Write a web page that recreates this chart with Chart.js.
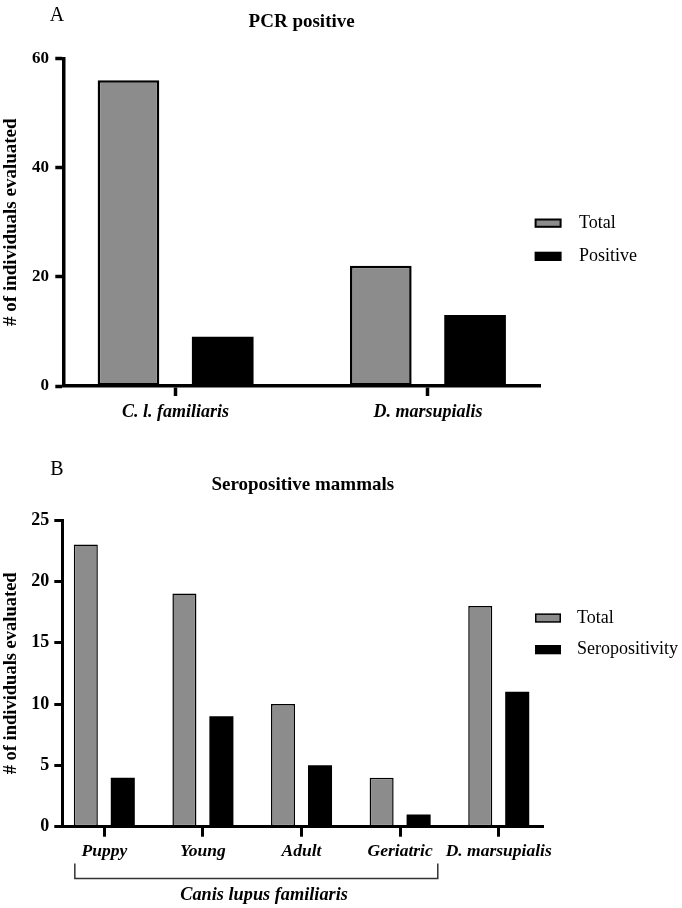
<!DOCTYPE html>
<html><head><meta charset="utf-8">
<script src="https://cdn.jsdelivr.net/npm/chart.js@4/dist/chart.umd.min.js"></script>
<style>
html,body{margin:0;padding:0;background:#fff;}
#wrapA{position:absolute;left:0;top:0;width:682px;height:440px;}
#wrapB{position:absolute;left:0;top:440px;width:682px;height:468px;}
</style></head><body>
<div id="wrapA"><canvas id="chartA"></canvas></div>
<div id="wrapB"><canvas id="chartB"></canvas></div>
<script>
// ---- data ----
const categoriesA = ['C. l. familiaris', 'D. marsupialis'];
const totalA = [56, 22];
const positiveA = [9, 13];
const yTicksA = [0, 20, 40, 60];

const categoriesB = ['Puppy', 'Young', 'Adult', 'Geriatric', 'D. marsupialis'];
const totalB = [23, 19, 10, 4, 18];
const seropositivityB = [4, 9, 5, 1, 11];
const yTicksB = [0, 5, 10, 15, 20, 25];
const groupLabelB = 'Canis lupus familiaris';

// ---- styling ----
const SERIF = '"Liberation Serif", "Times New Roman", serif';
const GRAY = '#8c8c8c';
Chart.defaults.font.family = SERIF;
Chart.defaults.color = '#000';

const decorPlugin = {
  id: 'decor',
  afterDraw(chart, args, o) {
    const ctx = chart.ctx;
    ctx.save();
    ctx.fillStyle = '#000';
    ctx.textAlign = 'center';
    ctx.textBaseline = 'middle';
    ctx.font = o.letterFont;
    ctx.fillText(o.letter, o.letterX, o.letterY);
    // legend
    chart.data.datasets.forEach((ds, i) => {
      const y = o.legendY[i];
      ctx.fillStyle = '#000';
      ctx.fillRect(o.legendX, y, o.boxW, o.boxH);
      const bw = o.boxBorder;
      ctx.fillStyle = ds.backgroundColor;
      ctx.fillRect(o.legendX + bw, y + bw, o.boxW - 2 * bw, o.boxH - 2 * bw);
      ctx.fillStyle = '#000';
      ctx.font = o.legendFont;
      ctx.textAlign = 'left';
      ctx.textBaseline = 'middle';
      ctx.fillText(ds.label, o.textX, y + o.boxH / 2);
    });
    if (o.bracket) {
      const b = o.bracket;
      const xs = chart.scales.x;
      const base = chart.chartArea.bottom;
      const x1 = xs.getPixelForValue(b.from), x2 = xs.getPixelForValue(b.to);
      ctx.strokeStyle = '#333';
      ctx.lineWidth = 1.5;
      ctx.beginPath();
      ctx.moveTo(x1, base + b.dyTop);
      ctx.lineTo(x1, base + b.dyBottom);
      ctx.lineTo(x2, base + b.dyBottom);
      ctx.lineTo(x2, base + b.dyTop);
      ctx.stroke();
      ctx.fillStyle = '#000';
      ctx.font = b.font;
      ctx.textAlign = 'center';
      ctx.textBaseline = 'middle';
      ctx.fillText(b.label, xs.getPixelForValue(b.labelAt), base + b.dyLabel);
    }
    ctx.restore();
  }
};

function makeChart(id, p) {
  return new Chart(document.getElementById(id), {
    type: 'bar',
    data: {
      datasets: [
        { label: p.labels[0], data: p.cats.map((c, i) => ({x: i, y: p.s1[i]})),
          backgroundColor: GRAY, borderColor: '#000', borderWidth: p.barBorder, borderSkipped: false },
        { label: p.labels[1], data: p.cats.map((c, i) => ({x: i, y: p.s2[i]})),
          backgroundColor: '#000', borderColor: '#000', borderWidth: 0 }
      ]
    },
    plugins: [decorPlugin],
    options: {
      responsive: true,
      maintainAspectRatio: false,
      animation: false,
      devicePixelRatio: 1,
      categoryPercentage: p.catPct,
      barPercentage: p.barPct,
      layout: { padding: { top: 0, left: 0, bottom: 0, right: p.padRight } },
      plugins: {
        legend: { display: false },
        tooltip: { enabled: false },
        title: {
          display: true, text: p.title, fullSize: false, color: '#000',
          font: { family: SERIF, size: 19, weight: 'bold' },
          padding: { top: p.titlePadTop, bottom: p.titlePadBottom }
        },
        decor: p.decor
      },
      scales: {
        x: {
          type: 'linear',
          offset: false,
          min: p.xMin, max: p.xMax,
          afterBuildTicks: s => { s.ticks = p.cats.map((c, i) => ({ value: i })); },
          afterFit: s => { s.height = p.xHeight; },
          border: { display: true, color: '#000', width: p.axisW },
          grid: { display: true, offset: false, drawOnChartArea: false, drawTicks: true, tickLength: 10,
                  tickWidth: p.axisW, tickColor: '#000' },
          ticks: {
            autoSkip: false, maxRotation: 0, minRotation: 0, padding: p.xPad, color: '#000',
            font: { family: SERIF, size: p.xFont, weight: 'bold', style: 'italic' },
            callback: v => p.cats[v]
          }
        },
        y: {
          min: p.yTicks[0], max: p.yTicks[p.yTicks.length - 1],
          afterBuildTicks: s => { s.ticks = p.yTicks.map(v => ({ value: v })); },
          afterFit: s => { s.width = p.yWidth; },
          border: { display: true, color: '#000', width: p.axisW },
          grid: { display: true, drawOnChartArea: false, drawTicks: true, tickLength: 8,
                  tickWidth: p.axisW, tickColor: '#000' },
          ticks: { padding: p.yPad, color: '#000', font: { family: SERIF, size: p.yFont, weight: 'bold' } },
          title: {
            display: true, text: '# of individuals evaluated', color: '#000',
            font: { family: SERIF, size: p.yTitleFont, weight: 'bold' },
            padding: { top: 0, bottom: 0 }
          }
        }
      }
    }
  });
}

makeChart('chartA', {
  cats: categoriesA, s1: totalA, s2: positiveA, labels: ['Total', 'Positive'], yTicks: yTicksA,
  title: 'PCR positive', titlePadTop: 11, titlePadBottom: 24.5,
  xMin: -0.445, xMax: 1.444, catPct: 0.747, barPct: 0.654, barBorder: 2.5,
  padRight: 142, xHeight: 54, yWidth: 63.3, axisW: 3.5,
  xPad: 5.7, xFont: 18, yPad: 6.3, yFont: 17, yTitleFont: 19,
  decor: {
    letter: 'A', letterX: 57, letterY: 16, letterFont: '20px ' + SERIF,
    legendX: 534.6, legendY: [218.5, 251.7], boxW: 27, boxH: 9.3, boxBorder: 2,
    textX: 579, legendFont: '18px ' + SERIF
  }
});

makeChart('chartB', {
  cats: categoriesB, s1: totalB, s2: seropositivityB, labels: ['Total', 'Seropositivity'], yTicks: yTicksB,
  title: 'Seropositive mammals', titlePadTop: 33.5, titlePadBottom: 23.7,
  xMin: -0.426, xMax: 4.452, catPct: 0.75, barPct: 0.65, barBorder: 1.5,
  padRight: 138.7, xHeight: 81.3, yWidth: 62.3, axisW: 3,
  xPad: 4.5, xFont: 17.5, yPad: 5, yFont: 18, yTitleFont: 18.5,
  decor: {
    letter: 'B', letterX: 57, letterY: 30, letterFont: '20px ' + SERIF,
    legendX: 535, legendY: [173.4, 205], boxW: 26, boxH: 9.3, boxBorder: 1.5,
    textX: 577, legendFont: '18px ' + SERIF,
    bracket: { from: -0.299, to: 3.382, labelAt: 1.62, dyTop: 36.7, dyBottom: 51.7, dyLabel: 68.5,
               label: groupLabelB, font: 'bold italic 18.3px ' + SERIF }
  }
});
</script>
</body></html>
